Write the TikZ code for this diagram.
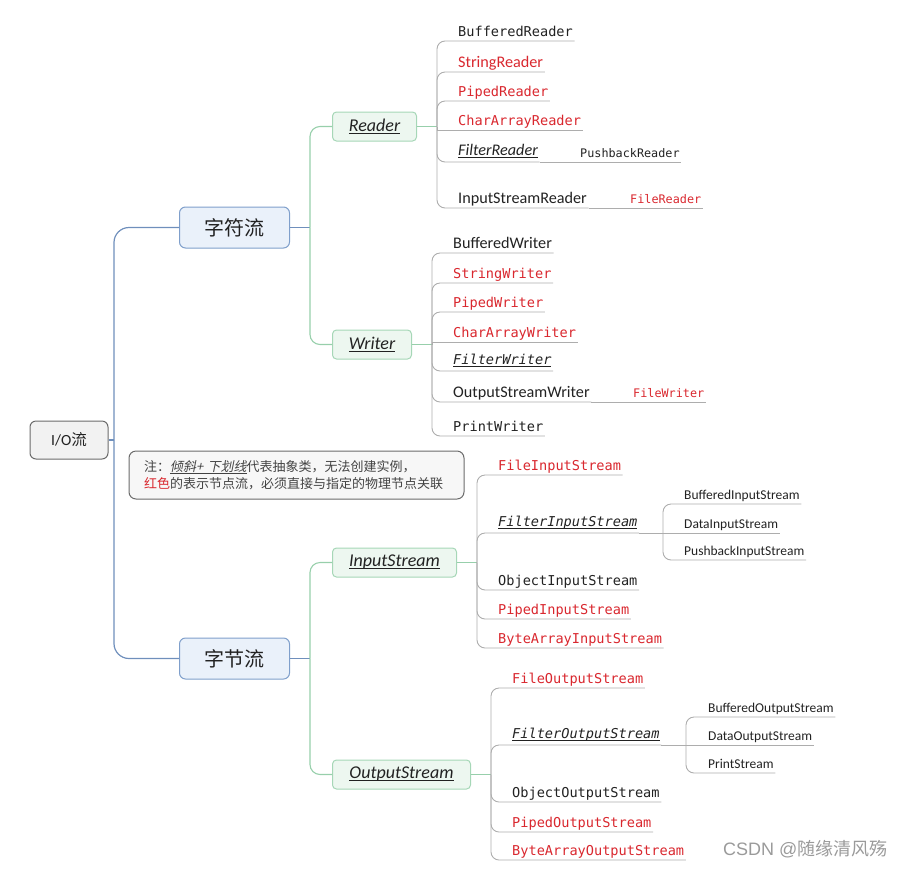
\documentclass[tikz,border=0pt]{standalone}
\usepackage{fontspec}
\setmainfont{Carlito}
\newfontfamily\cjk{Noto Sans CJK SC}
\newfontfamily\cjksl[FakeSlant=0.2]{Noto Sans CJK SC}
\newfontfamily\monof{DejaVu Sans Mono}
\newfontfamily\arialf{Liberation Sans}
\definecolor{blueB}{HTML}{7F9FCB}
\definecolor{blueF}{HTML}{EAF1FA}
\definecolor{blueL}{HTML}{6F8FBC}
\definecolor{greenB}{HTML}{A6D7B7}
\definecolor{greenF}{HTML}{EDF7F0}
\definecolor{greenL}{HTML}{97CFAB}
\definecolor{grayL}{HTML}{ADADAD}
\definecolor{grayB}{HTML}{6B6B6B}
\definecolor{grayF}{HTML}{F2F2F2}
\definecolor{myred}{HTML}{D9272E}
\definecolor{ttext}{HTML}{222222}
\definecolor{wmgray}{HTML}{9A9A9A}
\newcommand\ulx[1]{\setbox0=\hbox{#1}\rlap{\rule[-2.3pt]{\wd0}{0.8pt}}\box0}
\tikzset{
  lone/.style={draw=blueB, fill=blueF, rounded corners=6pt, line width=1pt,
    minimum width=110pt, minimum height=41pt, inner sep=0pt,
    font=\cjk\fontsize{20}{24}\selectfont, text=ttext},
  ltwo/.style={draw=greenB, fill=greenF, rounded corners=4pt, line width=1pt,
    minimum height=29pt, inner sep=0pt, anchor=west,
    font=\itshape\fontsize{18}{20}\selectfont, text=ttext},
  leaf/.style={anchor=south west, inner xsep=1.5pt, inner ysep=0pt,
    text height=10pt, text depth=4.5pt},
  mono/.style={font=\monof\fontsize{13.6}{15}\selectfont},
  monoit/.style={font=\monof\itshape\fontsize{13.6}{15}\selectfont},
  monos/.style={font=\monof\fontsize{11.8}{13}\selectfont},
  sansl/.style={font=\fontsize{16.2}{18}\selectfont},
  sanss/.style={font=\fontsize{13.5}{15}\selectfont},
  rd/.style={text=myred},
  bk/.style={text=ttext},
  ulsix/.style={text depth=6pt},
  bline/.style={draw=blueL, line width=1.2pt},
  gline/.style={draw=greenL, line width=1.1pt},
  lline/.style={draw=grayL, line width=0.9pt},
  rc/.style={rounded corners=8pt},
}
\begin{document}
\begin{tikzpicture}[x=1pt,y=-1pt]
\useasboundingbox (0,0) rectangle (910,868);

% root and level 1
\node[draw=grayB, fill=grayF, rounded corners=6pt, line width=1pt, minimum width=78pt,
  minimum height=38pt, inner sep=0pt, text=ttext, font=\fontsize{15.5}{18}\selectfont]
  (io) at (69,440) {I/O{\cjk 流}};
\node[lone] (zf) at (234.5,227.5) {字符流};
\node[lone] (zj) at (234.5,658.5) {字节流};

\coordinate (bt) at (114,440);
\draw[bline] (io.east) -- (bt);
\draw[bline, rounded corners=15pt] (bt) |- (zf.west);
\draw[bline, rounded corners=15pt] (bt) |- (zj.west);

% level 2
\node[ltwo, minimum width=84pt] (rd) at (332,126.5) {\ulx{Reader}};
\node[ltwo, minimum width=79pt] (wr) at (332,344.5) {\ulx{Writer}};
\node[ltwo, minimum width=124pt] (is) at (332,562.5) {\ulx{InputStream}};
\node[ltwo, minimum width=138pt] (os) at (332,774.5) {\ulx{OutputStream}};

\coordinate (gta) at (310,227.5);
\coordinate (gtb) at (310,658.5);
\draw[bline] (zf.east) -- (gta);
\draw[bline] (zj.east) -- (gtb);
\draw[gline, rounded corners=10pt] (gta) |- (rd.west);
\draw[gline, rounded corners=10pt] (gta) |- (wr.west);
\draw[gline, rounded corners=10pt] (gtb) |- (is.west);
\draw[gline, rounded corners=10pt] (gtb) |- (os.west);

% note
\node[draw=grayB, fill=white!97!black, rounded corners=7pt, line width=1pt,
  minimum width=335pt, minimum height=48pt, inner xsep=15pt, inner ysep=0pt,
  text width=305pt, align=left, text=ttext!85!white,
  font=\cjk\fontsize{13}{17.5}\selectfont] (note) at (296.5,475)
  {注：{\cjksl\ulx{倾斜+ 下划线}}代表抽象类，无法创建实例，\\
   {\color{myred}红色}的表示节点流，必须直接与指定的物理节点关联};

% Reader leaves
\coordinate (rt) at (437,126.5);
\draw[gline] (rd.east) -- (rt);
\node[leaf,mono,bk] (r1) at (456.5,41) {BufferedReader};
\node[leaf,sansl,rd] (r2) at (456.5,72) {StringReader};
\node[leaf,mono,rd] (r3) at (456.5,101) {PipedReader};
\node[leaf,mono,rd] (r4) at (456.5,130) {CharArrayReader};
\node[leaf,sansl,bk,ulsix] (r5) at (456.5,162) {\itshape\ulx{FilterReader}};
\node[leaf,monos,bk] (r5a) at (578.5,162) {PushbackReader};
\node[leaf,sansl,bk] (r6) at (456.5,208) {InputStreamReader};
\node[leaf,monos,rd] (r6a) at (628.5,208) {FileReader};
\foreach \n in {r1,r2,r3,r5,r6} \draw[lline,rc] (rt) |- (\n.south east);
\draw[lline] (rt) -- (rt |- r4.south) -- (r4.south east);
\draw[lline] (r5.south east) -- (r5a.south east);
\draw[lline] (r6.south east) -- (r6a.south east);

% Writer leaves
\coordinate (wt) at (432,344.5);
\draw[gline] (wr.east) -- (wt);
\node[leaf,sansl,bk] (w1) at (451.5,253) {BufferedWriter};
\node[leaf,mono,rd] (w2) at (451.5,283) {StringWriter};
\node[leaf,mono,rd] (w3) at (451.5,312) {PipedWriter};
\node[leaf,mono,rd] (w4) at (451.5,342) {CharArrayWriter};
\node[leaf,monoit,bk,ulsix] (w5) at (451.5,371) {\ulx{FilterWriter}};
\node[leaf,sansl,bk] (w6) at (451.5,402) {OutputStreamWriter};
\node[leaf,monos,rd] (w6a) at (631.5,402) {FileWriter};
\node[leaf,mono,bk] (w7) at (451.5,436) {PrintWriter};
\foreach \n in {w1,w2,w3,w5,w6,w7} \draw[lline,rc] (wt) |- (\n.south east);
\draw[lline] (wt) -- (wt |- w4.south) -- (w4.south east);
\draw[lline] (w6.south east) -- (w6a.south east);

% InputStream leaves
\coordinate (it) at (477,562.5);
\draw[gline] (is.east) -- (it);
\node[leaf,mono,rd] (i1) at (496.5,475) {FileInputStream};
\node[leaf,monoit,bk,ulsix] (i2) at (496.5,533) {\ulx{FilterInputStream}};
\node[leaf,mono,bk] (i3) at (496.5,590) {ObjectInputStream};
\node[leaf,mono,rd] (i4) at (496.5,619) {PipedInputStream};
\node[leaf,mono,rd] (i5) at (496.5,648) {ByteArrayInputStream};
\foreach \n in {i1,i2,i3,i4,i5} \draw[lline,rc] (it) |- (\n.south east);
\coordinate (ist) at (663,533);
\draw[lline] (i2.south east) -- (ist);
\node[leaf,sanss,bk] (i2a) at (682.5,504) {BufferedInputStream};
\node[leaf,sanss,bk] (i2b) at (682.5,533) {DataInputStream};
\node[leaf,sanss,bk] (i2c) at (682.5,560) {PushbackInputStream};
\draw[lline,rc] (ist) |- (i2a.south east);
\draw[lline] (ist) -- (i2b.south east);
\draw[lline,rc] (ist) |- (i2c.south east);

% OutputStream leaves
\coordinate (ot) at (491,774.5);
\draw[gline] (os.east) -- (ot);
\node[leaf,mono,rd] (o1) at (510.5,688) {FileOutputStream};
\node[leaf,monoit,bk,ulsix] (o2) at (510.5,745) {\ulx{FilterOutputStream}};
\node[leaf,mono,bk] (o3) at (510.5,802) {ObjectOutputStream};
\node[leaf,mono,rd] (o4) at (510.5,832) {PipedOutputStream};
\node[leaf,mono,rd] (o5) at (510.5,860) {ByteArrayOutputStream};
\foreach \n in {o1,o2,o3,o4,o5} \draw[lline,rc] (ot) |- (\n.south east);
\coordinate (ost) at (686,745);
\draw[lline] (o2.south east) -- (ost);
\node[leaf,sanss,bk] (o2a) at (706.5,717) {BufferedOutputStream};
\node[leaf,sanss,bk] (o2b) at (706.5,745) {DataOutputStream};
\node[leaf,sanss,bk] (o2c) at (706.5,773) {PrintStream};
\draw[lline,rc] (ost) |- (o2a.south east);
\draw[lline] (ost) -- (o2b.south east);
\draw[lline,rc] (ost) |- (o2c.south east);

% watermark
\node[anchor=base west, inner sep=0pt, text=wmgray, font=\arialf\fontsize{18}{20}\selectfont]
  (wm) at (723,855) {CSDN @{\cjk 随缘清风殇}};
\end{tikzpicture}
\end{document}
